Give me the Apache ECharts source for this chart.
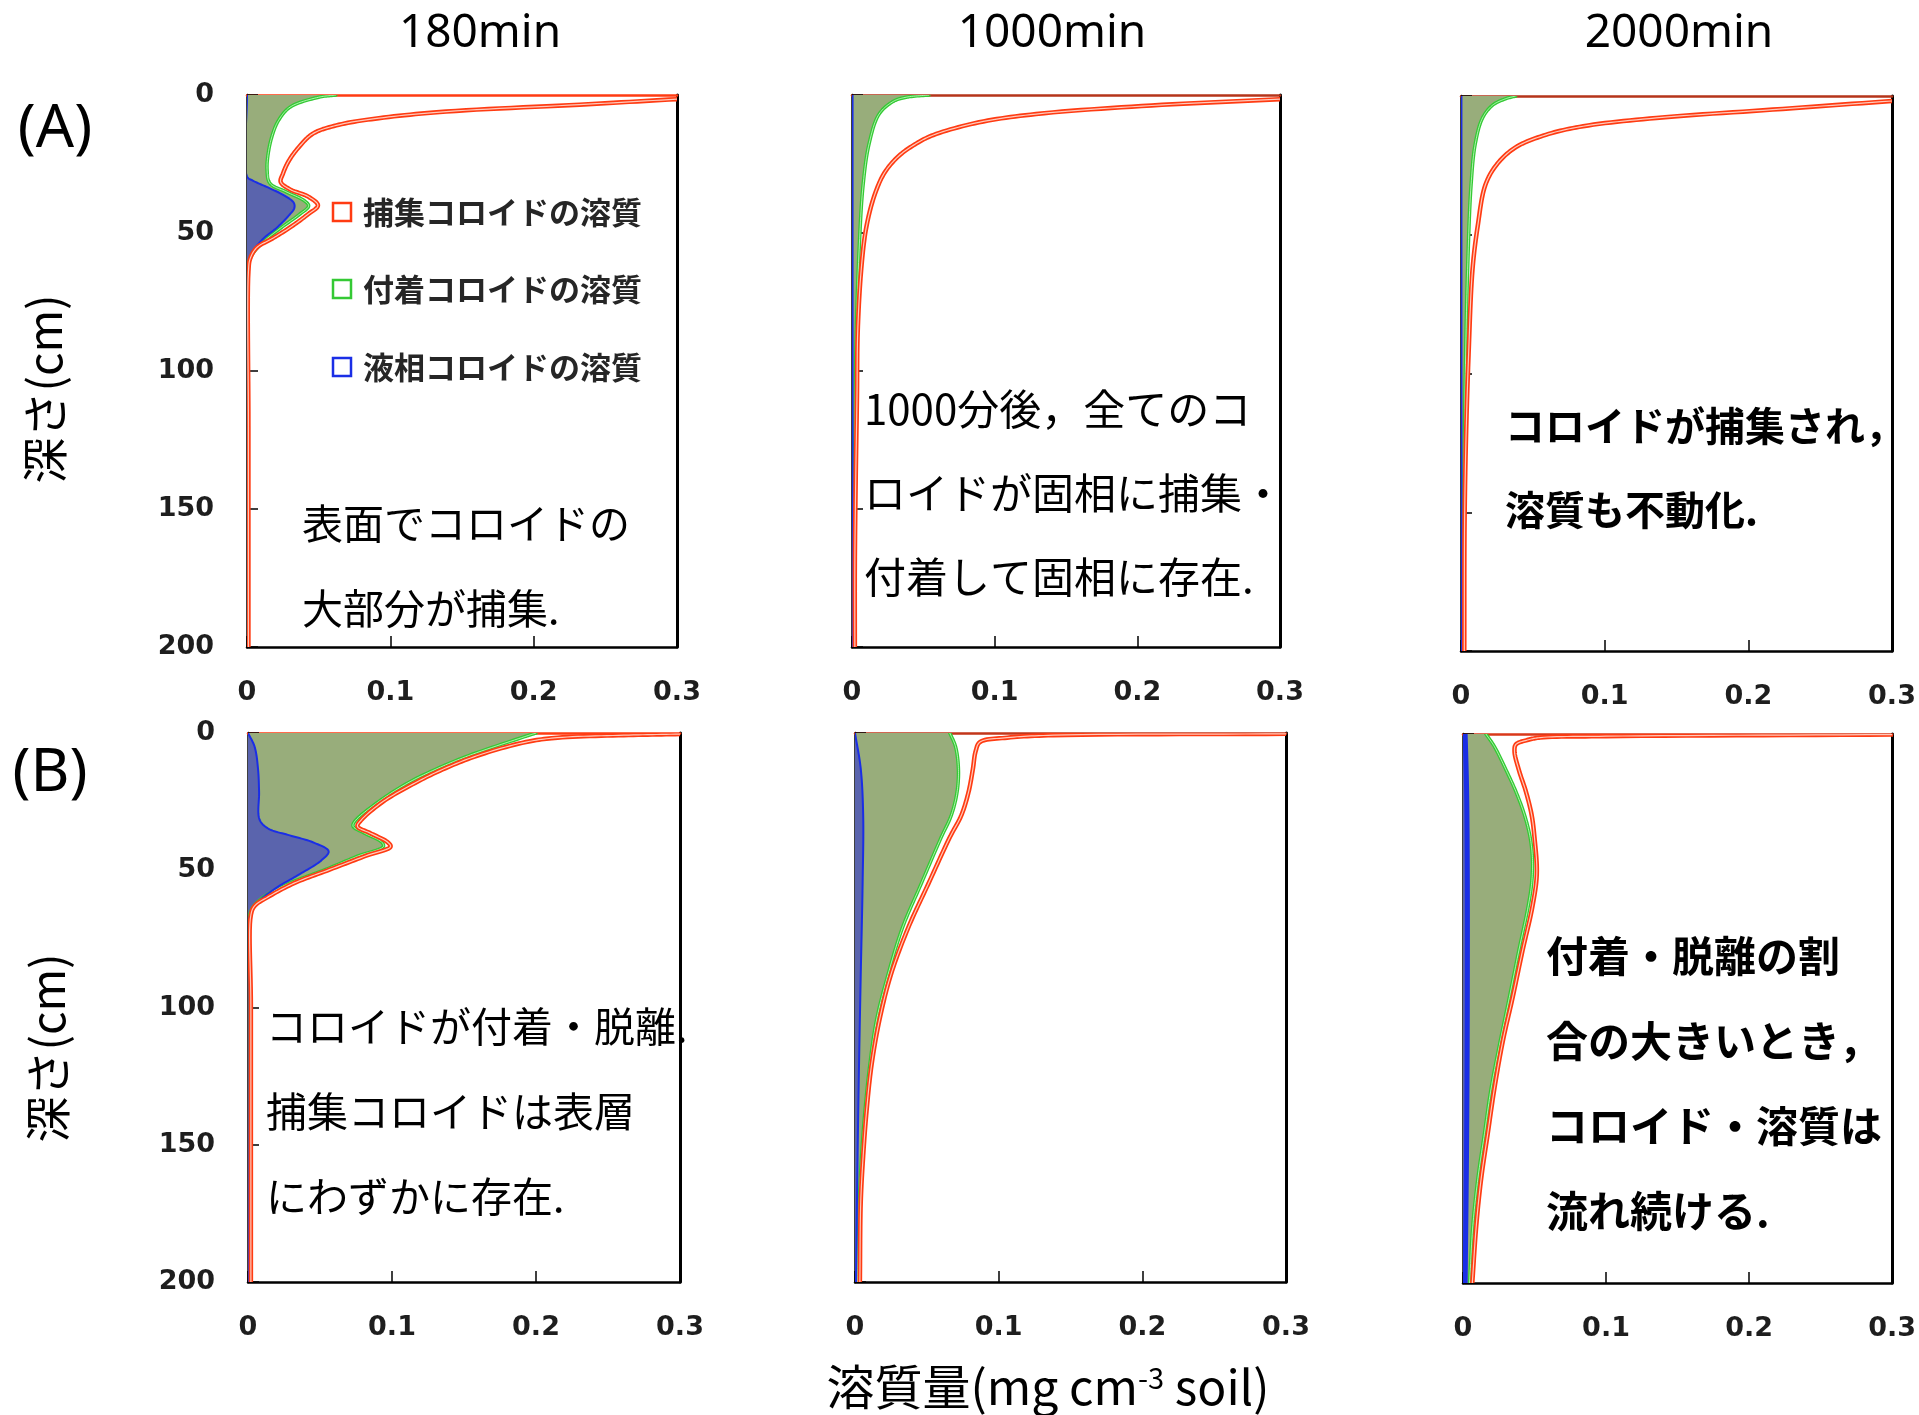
<!DOCTYPE html>
<html><head><meta charset="utf-8">
<script src="https://cdn.jsdelivr.net/npm/echarts@6/dist/echarts.min.js"></script>
<style>html,body{margin:0;padding:0;background:#fff}#c{width:1919px;height:1415px}</style>
</head><body><div id="c"></div>
<script>
// ---------- labels ----------
const xTickValues = [0, 0.1, 0.2, 0.3];
const xTickLabels = ['0', '0.1', '0.2', '0.3'];
const depthTicks = [0, 50, 100, 150, 200];
const columnTitles = ['180min', '1000min', '2000min'];
const rowLabels = ['(A)', '(B)'];
const legendNames = ['捕集コロイドの溶質', '付着コロイドの溶質', '液相コロイドの溶質'];
const yAxisName = '深さ(cm)';
const notesA1 = ['表面でコロイドの', '大部分が捕集.'];
const notesA2 = ['1000分後，全てのコ', 'ロイドが固相に捕集・', '付着して固相に存在.'];
const notesA3 = ['コロイドが捕集され，', '溶質も不動化.'];
const notesB1 = ['コロイドが付着・脱離.', '捕集コロイドは表層', 'にわずかに存在.'];
const notesB3 = ['付着・脱離の割', '合の大きいとき，', 'コロイド・溶質は', '流れ続ける.'];

// ---------- data: [value (mg cm-3), depth (cm)] ----------
// (A) 180 min
const a1Red = [[0.300,1.5],[0.232,3.5],[0.139,6],[0.092,8.4],[0.064,10.8],[0.046,14],[0.036,19],[0.029,24],[0.025,28.6],[0.0235,31.5],[0.030,34.2],[0.043,36.9],[0.0495,40],[0.0426,43.2],[0.030,48],[0.0177,52],[0.0068,55.3],[0.0022,59.3],[0.001,64],[0.001,120],[0.001,200]];
const a1Green = [[0.062,0],[0.050,0.8],[0.030,4.4],[0.022,9.2],[0.018,14],[0.015,20.5],[0.014,27],[0.016,32],[0.027,35],[0.040,38.3],[0.043,40.2],[0.036,43.5],[0.024,48],[0.013,52.5],[0.004,57.5],[0.0005,62],[0,66],[0,200]];
const a1Blue = [[0,0],[0,29.5],[0.004,31],[0.0146,33.5],[0.027,36.7],[0.0327,39.1],[0.033,41],[0.030,43.2],[0.021,48],[0.0115,52],[0.0037,57],[0.0009,61],[0,64],[0,200]];
// (A) 1000 min
const a2Red = [[0.300,1.5],[0.210,3.8],[0.129,6.9],[0.089,9.9],[0.057,14.5],[0.045,17.6],[0.033,22],[0.023,28],[0.016,36],[0.010,48],[0.0065,63],[0.004,86],[0.0035,109],[0.0026,140],[0.002,170],[0.002,200]];
const a2Green = [[0.054,0],[0.038,0.8],[0.029,2.3],[0.019,6.9],[0.012,17.6],[0.0077,33],[0.005,56],[0.003,86],[0.002,124],[0.0007,200]];
const a2Blue = [[0.0004,0],[0.0004,200]];
// (A) 2000 min
const a3Red = [[0.300,1.8],[0.217,4.9],[0.136,7.9],[0.085,10.9],[0.059,14],[0.038,18.5],[0.025,24.6],[0.017,32],[0.0116,47],[0.008,62.6],[0.0053,93],[0.0035,123],[0.0025,154],[0.0023,200]];
const a3Green = [[0.038,0],[0.031,1],[0.022,3.3],[0.015,7.9],[0.010,17],[0.007,32],[0.0046,62.6],[0.003,100],[0.0016,154],[0.0007,200]];
const a3Blue = [[0.0003,0],[0.0003,200]];
// (B) 180 min
const b1Red = [[0.300,0.4],[0.261,0.8],[0.215,1.7],[0.193,3.3],[0.159,8.3],[0.135,13.3],[0.116,18.2],[0.094,24.9],[0.079,31.5],[0.076,34],[0.085,36.5],[0.097,39.8],[0.099,41.4],[0.082,44.7],[0.057,49.7],[0.032,54.7],[0.014,59.7],[0.0046,63],[0.002,66.3],[0.002,100],[0.002,200]];
const b1Green = [[0.200,0],[0.190,1.7],[0.153,8.3],[0.130,13.3],[0.111,18.2],[0.091,24.9],[0.074,32.3],[0.073,34],[0.081,36.5],[0.093,39.8],[0.094,41.4],[0.077,44.7],[0.054,49.7],[0.029,54.7],[0.011,59.7],[0.003,63.8],[0.0006,68],[0,75],[0,200]];
const b1Blue = [[0,0],[0.0046,5],[0.007,13.3],[0.0077,21.5],[0.008,31.5],[0.014,34.8],[0.029,37.3],[0.045,39.8],[0.056,43.1],[0.051,46.4],[0.036,51.4],[0.020,56.3],[0.0077,61.3],[0.003,64.6],[0.0006,68],[0,75],[0,200]];
// (B) 1000 min
const b2Red = [[0.300,0.3],[0.138,0.8],[0.106,1.7],[0.087,3.3],[0.084,6.6],[0.082,13.3],[0.079,21.6],[0.074,30],[0.066,38],[0.051,55],[0.037,71],[0.025,88],[0.017,104.6],[0.0115,121],[0.008,138],[0.0057,154],[0.004,171],[0.0034,200]];
const b2Green = [[0.066,0],[0.070,5],[0.072,13.3],[0.071,21.6],[0.067,30],[0.060,38],[0.046,55],[0.033,71],[0.023,88],[0.015,104.6],[0.0103,121],[0.0069,138],[0.0046,154],[0.003,171],[0.0018,200]];
const b2Blue = [[0,0],[0.004,13],[0.0057,30],[0.0053,55],[0.004,88],[0.0028,121],[0.0018,154],[0.0007,200]];
// (B) 2000 min
const b3Red = [[0.300,0.2],[0.100,0.8],[0.054,1.3],[0.045,2.2],[0.037,3.8],[0.036,6.3],[0.039,13],[0.044,21],[0.048,29.5],[0.050,37.8],[0.0516,51],[0.0486,62.7],[0.0416,79],[0.0347,96],[0.0278,112],[0.022,129],[0.0173,145.6],[0.0127,162],[0.0093,179],[0.0065,200]];
const b3Green = [[0.016,0],[0.022,4.6],[0.030,13],[0.037,21],[0.043,29.5],[0.047,37.8],[0.0486,46],[0.048,54.4],[0.0456,62.7],[0.039,79],[0.0324,96],[0.026,112],[0.0197,129],[0.015,145.6],[0.0104,162],[0.0069,179],[0.0046,200]];
const b3Blue = [[0.0015,0],[0.0025,20],[0.003,50],[0.003,100],[0.0025,150],[0.0015,200]];

// ---------- style ----------
const RED = '#ff3b12', GREEN = '#34c934', OLIVE = '#98ad7b', BLUEFILL = '#5a64ad', BLUE = '#1a2ee6';
const JP = '"Noto Sans CJK JP", "Noto Sans", sans-serif';

const panels = [
  {grid:{left:247,top:95,width:430,height:552}, red:a1Red, green:a1Green, blue:a1Blue, showY:true, topColor:'#ff3b12', blueW:2},
  {grid:{left:852,top:95,width:428,height:552}, red:a2Red, green:a2Green, blue:a2Blue, showY:false, topColor:'#b5341a', blueW:2},
  {grid:{left:1461,top:96,width:431,height:555}, red:a3Red, green:a3Green, blue:a3Blue, showY:false, topColor:'#b5341a', blueW:2},
  {grid:{left:248,top:733,width:432,height:549}, red:b1Red, green:b1Green, blue:b1Blue, showY:true, topColor:'#ff3b12', blueW:2},
  {grid:{left:855,top:733,width:431,height:549}, red:b2Red, green:b2Green, blue:b2Blue, showY:false, topColor:'#c2361a', blueW:2},
  {grid:{left:1463,top:734,width:431,height:549}, red:b3Red, green:b3Green, blue:b3Blue, showY:false, topColor:'#d9381a', blueW:5}
];

// centripetal Catmull-Rom through pixel points (rendering only)
function smoothPts(P, n) {
  const N = P.length;
  if (N < 3) return P.slice();
  const get = i => {
    if (i < 0) return [2*P[0][0]-P[1][0], 2*P[0][1]-P[1][1]];
    if (i >= N) return [2*P[N-1][0]-P[N-2][0], 2*P[N-1][1]-P[N-2][1]];
    return P[i];
  };
  const d = (a,b) => Math.max(Math.pow(Math.hypot(b[0]-a[0], b[1]-a[1]), 0.5), 1e-3);
  const out = [P[0]];
  for (let i = 0; i < N-1; i++) {
    const p0 = get(i-1), p1 = get(i), p2 = get(i+1), p3 = get(i+2);
    const t0 = 0, t1 = t0 + d(p0,p1), t2 = t1 + d(p1,p2), t3 = t2 + d(p2,p3);
    for (let k = 1; k <= n; k++) {
      const t = t1 + (t2 - t1) * k / n;
      const L = (a,b,ta,tb) => [(tb-t)/(tb-ta)*a[0] + (t-ta)/(tb-ta)*b[0], (tb-t)/(tb-ta)*a[1] + (t-ta)/(tb-ta)*b[1]];
      const A1 = L(p0,p1,t0,t1), A2 = L(p1,p2,t1,t2), A3 = L(p2,p3,t2,t3);
      const B1 = L(A1,A2,t0,t2), B2 = L(A2,A3,t1,t3);
      out.push(L(B1,B2,t1,t2));
    }
  }
  return out;
}

function curveSeries(pi, pts, kind, opt) {
  return {
    type: 'custom', coordinateSystem: 'cartesian2d',
    xAxisIndex: 2*pi, yAxisIndex: 2*pi, clip: true, silent: true, z: opt.z,
    data: pts, encode: {x: 0, y: 1},
    renderItem: function (params, api) {
      if (params.dataIndex !== 0) return null;
      const px = smoothPts(pts.map(p => api.coord(p)), 12);
      if (kind === 'fill') {
        const poly = [api.coord([0, pts[0][1]])].concat(px, [api.coord([0, pts[pts.length-1][1]])]);
        return {type: 'polygon', shape: {points: poly}, style: {fill: opt.color, stroke: null}};
      }
      const children = [{type: 'polyline', shape: {points: px}, style: {stroke: opt.color, lineWidth: opt.width, fill: null, lineJoin: 'round', lineCap: 'round'}}];
      if (opt.inner) children.push({type: 'polyline', shape: {points: px}, style: {stroke: opt.inner, lineWidth: opt.innerWidth, fill: null, lineJoin: 'round'}});
      return {type: 'group', children: children};
    }
  };
}

const TICKFONT = '"DejaVu Sans", sans-serif';
const grids = [], xAxes = [], yAxes = [], series = [];
panels.forEach((p, i) => {
  grids.push(Object.assign({containLabel: false}, p.grid));
  xAxes.push({
    gridIndex: i, type: 'value', min: xTickValues[0], max: xTickValues[xTickValues.length-1], interval: 0.1, position: 'bottom',
    axisLine: {show: true, onZero: false, lineStyle: {color: '#000', width: 2.5}},
    axisTick: {show: true, inside: true, length: 11, lineStyle: {color: '#000', width: 1.5}},
    splitLine: {show: false},
    axisLabel: {show: true, margin: 32, color: '#1e1e1e', fontFamily: TICKFONT, fontWeight: 'bold', fontSize: 27,
      formatter: v => xTickLabels[xTickValues.findIndex(t => Math.abs(t - v) < 1e-9)] }
  });
  xAxes.push({
    gridIndex: i, type: 'value', min: 0, max: 0.3, position: 'top',
    axisLine: {show: true, onZero: false, lineStyle: {color: p.topColor, width: 2.5}},
    axisTick: {show: false}, axisLabel: {show: false}, splitLine: {show: false}
  });
  yAxes.push({
    gridIndex: i, type: 'value', inverse: true, min: depthTicks[0], max: depthTicks[depthTicks.length-1], interval: 50, position: 'left',
    axisLine: {show: true, onZero: false, lineStyle: {color: '#000', width: 2.5}},
    axisTick: {show: true, inside: true, length: 11, lineStyle: {color: '#000', width: 1.5}},
    splitLine: {show: false},
    axisLabel: {show: p.showY, margin: 33, color: '#1e1e1e', fontFamily: TICKFONT, fontWeight: 'bold', fontSize: 27,
      formatter: v => String(depthTicks[depthTicks.indexOf(v)])}
  });
  yAxes.push({
    gridIndex: i, type: 'value', inverse: true, min: 0, max: 200, position: 'right',
    axisLine: {show: true, onZero: false, lineStyle: {color: '#000', width: 3}},
    axisTick: {show: false}, axisLabel: {show: false}, splitLine: {show: false}
  });
  series.push(curveSeries(i, p.green, 'fill', {color: OLIVE, z: 2}));
  series.push(curveSeries(i, p.blue, 'fill', {color: BLUEFILL, z: 3}));
  series.push(curveSeries(i, p.green, 'line', {color: GREEN, width: 3.5, inner: 'rgba(215,255,215,0.75)', innerWidth: 1, z: 4}));
  series.push(curveSeries(i, p.blue, 'line', {color: BLUE, width: p.blueW, z: 5}));
  series.push(curveSeries(i, p.red, 'line', {color: RED, width: 4.5, inner: 'rgba(255,228,218,0.85)', innerWidth: 1.2, z: 6}));
});

// ---------- text ----------
const graphic = [];
function txt(s, x, y, font, opts) {
  opts = opts || {};
  graphic.push({type: 'text', x: x, y: y, rotation: opts.rotation || 0, silent: true, z: 100,
    style: {text: s, font: font, fill: opts.fill || '#000', textAlign: opts.align || 'left', align: opts.align || 'left',
      textVerticalAlign: 'middle', verticalAlign: 'middle'}});
}
const titleX = [480, 1052, 1679];
columnTitles.forEach((t, i) => txt(t, titleX[i], 34, '46px "Noto Sans", sans-serif', {align: 'center'}));
txt(rowLabels[0], 55, 130, '60px "Noto Sans", sans-serif', {align: 'center'});
txt(rowLabels[1], 50, 774, '60px "Noto Sans", sans-serif', {align: 'center'});
txt(yAxisName, 45, 389, '46px ' + JP, {align: 'center', rotation: Math.PI / 2});
txt(yAxisName, 48, 1048, '46px ' + JP, {align: 'center', rotation: Math.PI / 2});

function notes(lines, x, y0, step, font) { lines.forEach((l, k) => txt(l, x, y0 + k * step, font)); }
notes(notesA1, 302, 523, 85, '41px ' + JP);
notes(notesA2, 864, 409, 84, '42px ' + JP);
notes(notesA3, 1505, 426, 84, 'bold 40px ' + JP);
notes(notesB1, 266, 1026, 85, '41px ' + JP);
notes(notesB3, 1546, 956, 85, 'bold 42px ' + JP);

// legend (A, 180min)
const legendColors = [RED, GREEN, BLUE];
const legendY = [212, 289, 367];
legendNames.forEach((n, k) => {
  graphic.push({type: 'rect', x: 333, y: legendY[k] - 9, silent: true, z: 100,
    shape: {width: 18, height: 18}, style: {fill: '#fff', stroke: legendColors[k], lineWidth: 2.5}});
  txt(n, 363, legendY[k], 'bold 31px ' + JP, {fill: '#262626'});
});

// x axis title with superscript
graphic.push({type: 'text', x: 1048, y: 1387, silent: true, z: 100,
  style: {text: '{a|溶質量(mg cm}{s|-3}{a| soil)}', textAlign: 'center', align: 'center', textVerticalAlign: 'middle', verticalAlign: 'middle',
    rich: {a: {fontSize: 48, fontFamily: JP, fill: '#000', verticalAlign: 'bottom'},
           s: {fontSize: 29, fontFamily: JP, fill: '#000', verticalAlign: 'top'}}}});

const chart = echarts.init(document.getElementById('c'), null, {renderer: 'canvas'});
chart.setOption({
  backgroundColor: '#fff', animation: false,
  grid: grids, xAxis: xAxes, yAxis: yAxes, series: series, graphic: graphic
});
</script></body></html>
